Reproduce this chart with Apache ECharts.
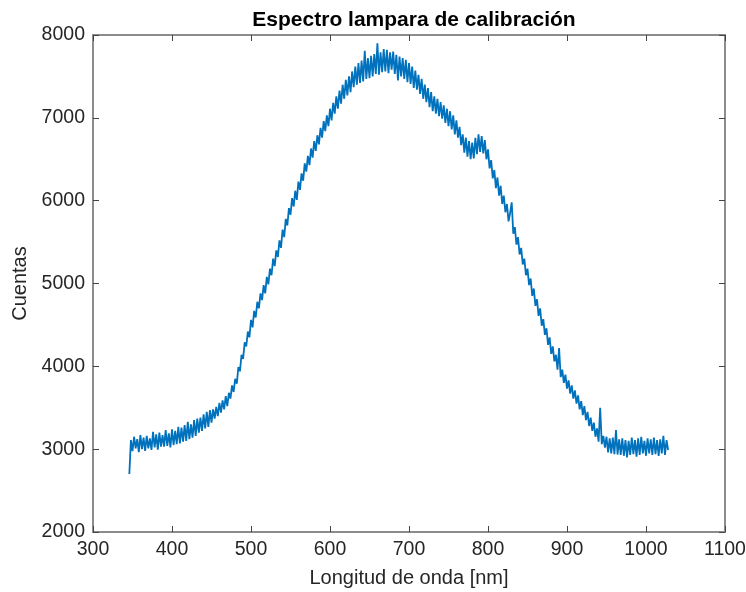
<!DOCTYPE html>
<html>
<head>
<meta charset="utf-8">
<script src="https://cdn.jsdelivr.net/npm/echarts@6/dist/echarts.min.js"></script>
<style>html,body{margin:0;padding:0;background:#fff;overflow:hidden}#c{width:746px;height:592px}</style>
</head>
<body>
<div id="c"></div>
<script>
var titleText = 'Espectro lampara de calibración';
var xName = 'Longitud de onda [nm]';
var yName = 'Cuentas';
var xTicks = [300, 400, 500, 600, 700, 800, 900, 1000, 1100];
var yTicks = [2000, 3000, 4000, 5000, 6000, 7000, 8000];

var wavelength = [346,348,
350,352,354,356,358,360,362,364,366,368,370,372,374,376,378,380,382,384,386,388,390,392,394,396,398,
400,402,404,406,408,410,412,414,416,418,420,422,424,426,428,430,432,434,436,438,440,442,444,446,448,
450,452,454,456,458,460,462,464,466,468,470,472,474,476,478,480,482,484,486,488,490,492,494,496,498,
500,502,504,506,508,510,512,514,516,518,520,522,524,526,528,530,532,534,536,538,540,542,544,546,548,
550,552,554,556,558,560,562,564,566,568,570,572,574,576,578,580,582,584,586,588,590,592,594,596,598,
600,602,604,606,608,610,612,614,616,618,620,622,624,626,628,630,632,634,636,638,640,642,644,646,648,
650,652,654,656,658,660,662,664,666,668,670,672,674,676,678,680,682,684,686,688,690,692,694,696,698,
700,702,704,706,708,710,712,714,716,718,720,722,724,726,728,730,732,734,736,738,740,742,744,746,748,
750,752,754,756,758,760,762,764,766,768,770,772,774,776,778,780,782,784,786,788,790,792,794,796,798,
800,802,804,806,808,810,812,814,816,818,820,822,824,826,828,830,832,834,836,838,840,842,844,846,848,
850,852,854,856,858,860,862,864,866,868,870,872,874,876,878,880,882,884,886,888,890,892,894,896,898,
900,902,904,906,908,910,912,914,916,918,920,922,924,926,928,930,932,934,936,938,940,942,944,946,948,
950,952,954,956,958,960,962,964,966,968,970,972,974,976,978,980,982,984,986,988,990,992,994,996,998,
1000,1002,1004,1006,1008,1010,1012,1014,1016,1018,1020,1022,1024,1026,1028];

var counts = [2700,3110,
2975,3150,3010,3120,2965, 3170,3000,3140,2980,3160, 3010,3130,2990,3210,3020, 3180,2995,3200,3030,3170, 3030,3230,3040,3190,3020,
3240,3050,3220,3060,3270, 3070,3260,3090,3290,3100, 3330,3120,3300,3140,3350, 3160,3370,3200,3380,3220, 3420,3250,3450,3270,3470,
3320,3480,3370,3510,3400, 3560,3440,3590,3480,3640, 3520,3680,3610,3770,3690, 3850,3790,3990,3940,4140, 4090,4290,4240,4420,4350,
4560,4470,4670,4590,4780, 4700,4880,4800,4980,4880, 5080,4990,5180,5100,5300, 5210,5400,5320,5520,5430, 5650,5560,5780,5700,5910,
5830,6030,5930,6120,6010, 6230,6130,6330,6240,6450, 6350,6540,6430,6630,6520, 6720,6600,6790,6680,6880, 6760,6960,6840,7030,6900,
7110,6970,7180,7050,7260, 7110,7330,7170,7400,7230, 7460,7270,7500,7310,7560, 7370,7620,7400,7660,7420, 7690,7440,7810,7470,7720,
7480,7750,7500,7770,7530, 7900,7520,7790,7550,7830, 7560,7820,7540,7790,7580, 7800,7530,7760,7450,7740, 7500,7720,7470,7700,7430,
7660,7410,7620,7360,7570, 7340,7520,7290,7470,7230, 7400,7190,7360,7130,7310, 7080,7260,7050,7230,7020, 7190,6990,7150,6940,7110,
6900,7080,6860,7030,6800, 6970,6760,6890,6670,6800, 6580,6760,6530,6720,6500, 6700,6510,6760,6560,6800, 6590,6780,6570,6730,6500,
6620,6390,6490,6270,6370, 6150,6280,6060,6180,5960, 6060,5860,5960,5750,5850, 5980,5600,5680,5470,5560, 5350,5430,5230,5300,5100,
5180,4980,5060,4850,4940, 4730,4810,4610,4700,4490, 4570,4380,4460,4260,4350, 4150,4240,4060,4140,3960, 4220,3870,3960,3800,3900,
3730,3830,3670,3770,3610, 3710,3550,3650,3480,3580, 3410,3520,3350,3450,3280, 3380,3220,3320,3150,3250, 3090,3500,3060,3160,3020,
3150,2960,3130,2950,3140, 2940,3230,2935,3120,2930, 3130,2920,3110,2900,3100, 2930,3140,2940,3110,2910, 3130,2930,3150,2950,3100,
2920,3130,2950,3120,2930, 3140,2940,3110,2920,3120, 2950,3160,2930,3110,2990];

var seriesData = wavelength.map(function (w, i) { return [w, counts[i]]; });

var textColor = '#262626';
var boxColor = '#8c8c8c';
var font = 'Liberation Sans, Arial, Helvetica, sans-serif';

function xAxisCfg(pos, showLabels) {
  return {
    type: 'value', position: pos,
    min: xTicks[0], max: xTicks[xTicks.length - 1], interval: 100,
    axisLine: { show: true, onZero: false, lineStyle: { color: boxColor, width: 2 } },
    axisTick: { show: true, inside: true, length: 6, lineStyle: { color: '#444', width: 1 } },
    axisLabel: { show: showLabels, color: textColor, fontSize: 19.5, fontFamily: font, margin: 8,
      formatter: function (v) { return String(v); } },
    splitLine: { show: false },
    name: showLabels ? xName : '',
    nameLocation: 'middle', nameGap: 36,
    nameTextStyle: { color: textColor, fontSize: 20, fontFamily: font }
  };
}
function yAxisCfg(pos, showLabels) {
  return {
    type: 'value', position: pos,
    min: yTicks[0], max: yTicks[yTicks.length - 1], interval: 1000,
    axisLine: { show: true, onZero: false, lineStyle: { color: boxColor, width: 2 } },
    axisTick: { show: true, inside: true, length: 6, lineStyle: { color: '#444', width: 1 } },
    axisLabel: { show: showLabels, color: textColor, fontSize: 19.5, fontFamily: font, margin: 8,
      formatter: function (v) { return String(v); } },
    splitLine: { show: false },
    name: showLabels ? yName : '',
    nameLocation: 'middle', nameGap: 58, nameRotate: 90,
    nameTextStyle: { color: textColor, fontSize: 20, fontFamily: font }
  };
}

var chart = echarts.init(document.getElementById('c'), null, { renderer: 'canvas' });
chart.setOption({
  animation: false,
  backgroundColor: '#ffffff',
  title: {
    text: titleText, left: 409, top: 5, textAlign: 'center',
    textStyle: { color: '#000', fontSize: 21, fontWeight: 'bold', fontFamily: font }
  },
  grid: { left: 93, right: 21, top: 35, bottom: 60, containLabel: false, outerBoundsMode: 'none' },
  xAxis: [xAxisCfg('bottom', true), xAxisCfg('top', false)],
  yAxis: [yAxisCfg('left', true), yAxisCfg('right', false)],
  series: [{
    type: 'line', xAxisIndex: 0, yAxisIndex: 0,
    data: seriesData, showSymbol: false, symbol: 'none',
    lineStyle: { color: '#0072BD', width: 1.8 },
    itemStyle: { color: '#0072BD' }
  }]
});
</script>
</body>
</html>
